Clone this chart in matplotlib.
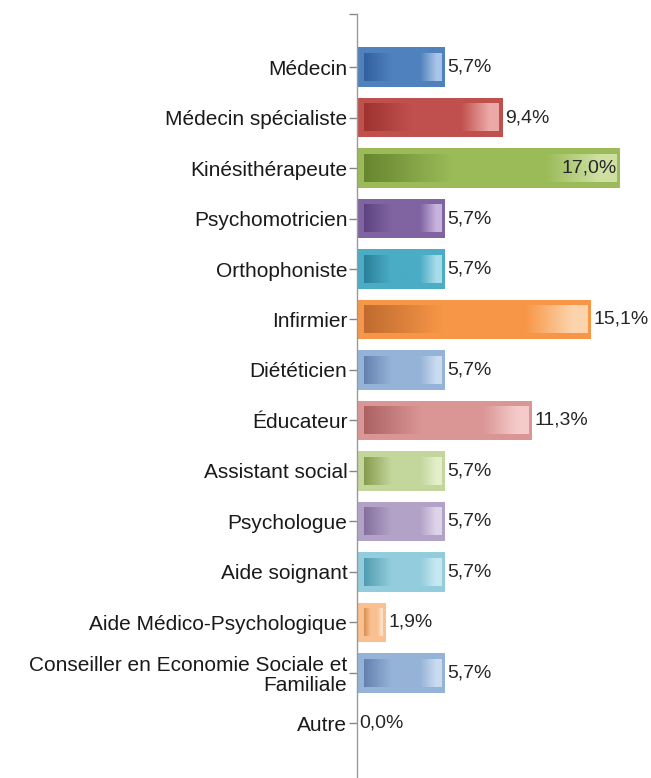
import numpy as np
import matplotlib
matplotlib.use("Agg")
import matplotlib.pyplot as plt
from matplotlib.colors import LinearSegmentedColormap

categories = [
    "Médecin",
    "Médecin spécialiste",
    "Kinésithérapeute",
    "Psychomotricien",
    "Orthophoniste",
    "Infirmier",
    "Diététicien",
    "Éducateur",
    "Assistant social",
    "Psychologue",
    "Aide soignant",
    "Aide Médico-Psychologique",
    "Conseiller en Economie Sociale et\nFamiliale",
    "Autre",
]
values = [5.7, 9.4, 17.0, 5.7, 5.7, 15.1, 5.7, 11.3, 5.7, 5.7, 5.7, 1.9, 5.7, 0.0]

# base (border) colour, dark end, light end of each bar's gradient
base_colors = ["#4F81BD", "#C0504D", "#9BBB59", "#8064A2", "#4BACC6", "#F79646",
               "#95B3D7", "#D99694", "#C3D69B", "#B3A2C7", "#93CDDD", "#FAC090",
               "#95B3D7", "#95B3D7"]
dark_colors = ["#32609E", "#9E3330", "#67862F", "#5E4381", "#2A8098", "#BF6B30",
               "#6381AF", "#AC6262", "#869B4E", "#83709C", "#519CB0", "#D68E52",
               "#6381AF", "#6381AF"]
light_colors = ["#A9C4E8", "#EBA9A7", "#CDE0A2", "#C6B4DE", "#A7DCEA", "#FCD3AC",
                "#CBDBF0", "#F4CBCA", "#E3EECB", "#DED4EA", "#C8E8F1", "#FDE2CB",
                "#CBDBF0", "#CBDBF0"]

plt.rcParams['font.family'] = ['Liberation Sans', 'DejaVu Sans']

fig = plt.figure(figsize=(6.51, 7.78), dpi=100)
ax = fig.add_axes([357 / 651, 0, 1 - 357 / 651, 1 - 14 / 778])

y = np.arange(len(categories))
bar_h = 0.79
px = 18.97 / (651 - 357)   # data units per pixel along x
py = 1 / 50.5              # data units per pixel along y

grad = np.linspace(0, 1, 256).reshape(1, -1)
for i, v in enumerate(values):
    if v <= 0:
        continue
    ax.barh(y[i], v, height=bar_h, color=base_colors[i], edgecolor="none", zorder=2)
    cmap = LinearSegmentedColormap.from_list(
        "g%d" % i,
        [(0, dark_colors[i]), (0.35, base_colors[i]), (0.72, base_colors[i]),
         (0.93, light_colors[i]), (1, light_colors[i])])
    x0 = 7 * px
    x1 = v - 4 * px
    if x1 > x0:
        ax.imshow(grad, cmap=cmap, aspect="auto", zorder=3,
                  extent=(x0, x1, y[i] + bar_h / 2 - 6 * py, y[i] - bar_h / 2 + 6 * py))

for i, v in enumerate(values):
    txt = f"{v:.1f}".replace(".", ",") + "%"
    if v > 16:
        ax.annotate(txt, (v, y[i]), xytext=(-3, 0), textcoords="offset points",
                    ha="right", va="center", fontsize=14, color="#262626", zorder=4)
    else:
        ax.annotate(txt, (v, y[i]), xytext=(1.5, 0), textcoords="offset points",
                    ha="left", va="center", fontsize=14, color="#262626", zorder=4)

ax.set_xlim(0, 18.97)
ax.set_ylim(14.08, -1.05)
ax.set_yticks(list(y) + [-1.05])
ax.set_yticklabels(categories + [""], fontsize=15, linespacing=1.05)
ax.tick_params(axis="y", length=5.5, width=1, color="#868686", pad=1.5, labelcolor="#1a1a1a")
ax.set_xticks([])
for s in ["top", "right", "bottom"]:
    ax.spines[s].set_visible(False)
ax.spines["left"].set_color("#9a9a9a")
ax.spines["left"].set_linewidth(1)

fig.savefig("out.png", dpi=100)
